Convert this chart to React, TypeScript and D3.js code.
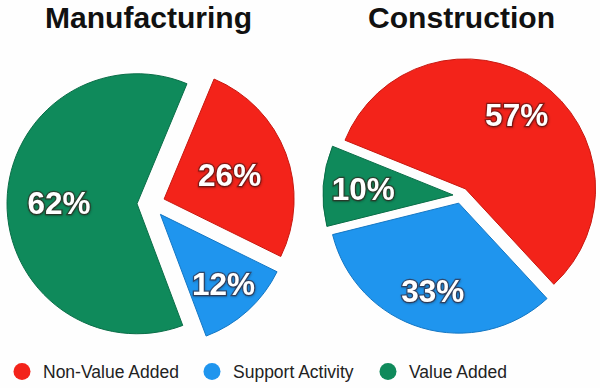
import React from "react";
import * as d3 from "d3";

const categories = ["Non-Value Added", "Support Activity", "Value Added"];
const titles = ["Manufacturing", "Construction"];
const manufacturingValues = [26, 12, 62];
const constructionValues = [57, 33, 10];
const colors = ["#f3231a", "#1f95ee", "#0f8a5b"];
const strokes = ["#c81810", "#1477c4", "#0a6e48"];

const W = 600;
const H = 388;
const R = 130;

const layouts = [
  { cx: 151, cy: 204, start: 22.6, explode: 14, labelR: [70, 94, 78], titleX: 148.5, titleW: 207 },
  { cx: 461, cy: 195.5, start: -68, explode: 8, labelR: [90, 91, 90], titleX: 461.5, titleW: 187 },
];

const deg = Math.PI / 180;

function Pie({ values, title, layout }: { values: number[]; title: string; layout: any }) {
  const pie = d3
    .pie<number>()
    .sort(null)
    .startAngle(layout.start * deg)
    .endAngle(layout.start * deg + 2 * Math.PI)
    .value((d) => d);
  const arcs = pie(values);
  const arc = d3.arc<d3.PieArcDatum<number>>().innerRadius(0).outerRadius(R);
  return (
    <g>
      <text
        x={layout.titleX}
        y={28}
        textAnchor="middle"
        fontFamily="Liberation Sans, Arial, sans-serif"
        fontWeight="bold"
        fontSize={30}
        textLength={layout.titleW}
        lengthAdjust="spacingAndGlyphs"
        fill="#111"
      >
        {title}
      </text>
      {arcs.map((a, i) => {
        const mid = (a.startAngle + a.endAngle) / 2;
        const dx = Math.sin(mid) * layout.explode;
        const dy = -Math.cos(mid) * layout.explode;
        const lr = layout.labelR[i];
        const lx = Math.sin(mid) * lr;
        const ly = -Math.cos(mid) * lr;
        return (
          <g key={i} transform={`translate(${layout.cx + dx},${layout.cy + dy})`}>
            <path d={arc(a) || ""} fill={colors[i]} stroke={strokes[i]} strokeWidth={1} />
            <text
              x={lx}
              y={ly}
              dy="0.36em"
              textAnchor="middle"
              fontFamily="Liberation Sans, Arial, sans-serif"
              fontWeight="bold"
              fontSize={31.5}
              fill="#ffffff"
              stroke="rgba(60,20,20,0.55)"
              strokeWidth={2.5}
              paintOrder="stroke"
              filter="url(#shadow)"
            >
              {`${values[i]}%`}
            </text>
          </g>
        );
      })}
    </g>
  );
}

export default function App() {
  const legendX = [22, 212, 388];
  return (
    <svg
      width={W}
      height={H}
      viewBox={`0 0 ${W} ${H}`}
      style={{ position: "absolute", left: 0, top: 0, background: "#fefefe" }}
    >
      <defs>
        <filter id="shadow" x="-20%" y="-20%" width="140%" height="140%">
          <feDropShadow dx="0.5" dy="1" stdDeviation="1" floodColor="#000" floodOpacity="0.35" />
        </filter>
      </defs>
      <Pie values={manufacturingValues} title={titles[0]} layout={layouts[0]} />
      <Pie values={constructionValues} title={titles[1]} layout={layouts[1]} />
      {categories.map((c, i) => (
        <g key={c}>
          <circle cx={legendX[i]} cy={371.5} r={8.5} fill={colors[i]} />
          <text
            x={legendX[i] + 21}
            y={377.5}
            fontFamily="Liberation Sans, Arial, sans-serif"
            fontSize={17.5}
            fill="#222"
          >
            {c}
          </text>
        </g>
      ))}
    </svg>
  );
}
